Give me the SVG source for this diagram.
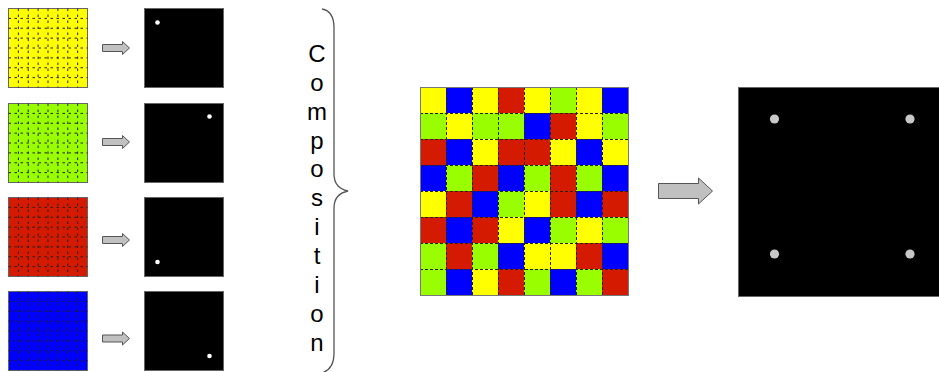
<svg xmlns="http://www.w3.org/2000/svg" xmlns:xlink="http://www.w3.org/1999/xlink" width="939" height="372" viewBox="0 0 939 372">
<style>
.y{fill:#ffff00}.g{fill:#99ff00}.r{fill:#d41a00}.b{fill:#0000ff}
.sq{stroke:#666;stroke-width:1}
.blk{fill:#000;stroke:#666;stroke-width:1}
.dash{fill:none;stroke:#222;stroke-width:1;stroke-dasharray:3 2}
.sdash{fill:none;stroke:#222;stroke-width:1;stroke-dasharray:2.5 3.5}
.arr{fill:#c0c0c0;stroke:#555;stroke-width:1;stroke-linejoin:miter}
.lbl{font-family:"Liberation Sans",Arial,sans-serif;font-size:24px;fill:#000;text-anchor:middle}
.brace{fill:none;stroke:#555;stroke-width:1.3}
</style>
<defs>
<path id="sgrid" class="sdash" d="M9.875 0V79M19.75 0V79M29.625 0V79M39.5 0V79M49.375 0V79M59.25 0V79M69.125 0V79M0 9.875H79M0 19.75H79M0 29.625H79M0 39.5H79M0 49.375H79M0 59.25H79M0 69.125H79"/>
</defs>

<g id="yellow-grid">
<rect class="y sq" x="8.5" y="8.5" width="79" height="79"/>
<use xlink:href="#sgrid" x="8.5" y="8.5"/>
</g>
<g id="green-grid">
<rect class="g sq" x="8.5" y="103.5" width="79" height="79"/>
<use xlink:href="#sgrid" x="8.5" y="103.5"/>
</g>
<g id="red-grid">
<rect class="r sq" x="8.5" y="197.5" width="79" height="79"/>
<use xlink:href="#sgrid" x="8.5" y="197.5"/>
</g>
<g id="blue-grid">
<rect class="b sq" x="8.5" y="291.5" width="79" height="79"/>
<use xlink:href="#sgrid" x="8.5" y="291.5"/>
</g>

<g id="mask-1"><rect class="blk" x="144.5" y="8.5" width="79" height="79"/><circle cx="157.5" cy="22.5" r="2.3" fill="#fff"/></g>
<g id="mask-2"><rect class="blk" x="144.5" y="103.5" width="79" height="79"/><circle cx="209.5" cy="116.5" r="2.3" fill="#fff"/></g>
<g id="mask-3"><rect class="blk" x="144.5" y="197.5" width="79" height="79"/><circle cx="157.5" cy="262" r="2.3" fill="#fff"/></g>
<g id="mask-4"><rect class="blk" x="144.5" y="291.5" width="79" height="79"/><circle cx="209.5" cy="356" r="2.3" fill="#fff"/></g>

<g id="composition">
<path class="brace" d="M322 9Q334 11 334 28L334 174Q334 188 348 191Q334 194 334 208L334 354Q334 369 322 373"/>
<text class="lbl" x="317" y="62">C</text>
<text class="lbl" x="317" y="91">o</text>
<text class="lbl" x="317" y="120">m</text>
<text class="lbl" x="317" y="149">p</text>
<text class="lbl" x="317" y="177">o</text>
<text class="lbl" x="317" y="206">s</text>
<text class="lbl" x="317" y="235">i</text>
<text class="lbl" x="317" y="264">t</text>
<text class="lbl" x="317" y="293">i</text>
<text class="lbl" x="317" y="322">o</text>
<text class="lbl" x="317" y="351">n</text>
</g>

<g id="checkerboard">
<rect class="y" x="420" y="87" width="26" height="26"/><rect class="b" x="446" y="87" width="26" height="26"/><rect class="y" x="472" y="87" width="26" height="26"/><rect class="r" x="498" y="87" width="26" height="26"/><rect class="y" x="524" y="87" width="26" height="26"/><rect class="g" x="550" y="87" width="26" height="26"/><rect class="y" x="576" y="87" width="26" height="26"/><rect class="b" x="602" y="87" width="26" height="26"/>
<rect class="g" x="420" y="113" width="26" height="26"/><rect class="y" x="446" y="113" width="26" height="26"/><rect class="g" x="472" y="113" width="26" height="26"/><rect class="g" x="498" y="113" width="26" height="26"/><rect class="b" x="524" y="113" width="26" height="26"/><rect class="r" x="550" y="113" width="26" height="26"/><rect class="y" x="576" y="113" width="26" height="26"/><rect class="g" x="602" y="113" width="26" height="26"/>
<rect class="r" x="420" y="139" width="26" height="26"/><rect class="b" x="446" y="139" width="26" height="26"/><rect class="y" x="472" y="139" width="26" height="26"/><rect class="r" x="498" y="139" width="26" height="26"/><rect class="r" x="524" y="139" width="26" height="26"/><rect class="y" x="550" y="139" width="26" height="26"/><rect class="b" x="576" y="139" width="26" height="26"/><rect class="y" x="602" y="139" width="26" height="26"/>
<rect class="b" x="420" y="165" width="26" height="26"/><rect class="g" x="446" y="165" width="26" height="26"/><rect class="r" x="472" y="165" width="26" height="26"/><rect class="b" x="498" y="165" width="26" height="26"/><rect class="g" x="524" y="165" width="26" height="26"/><rect class="r" x="550" y="165" width="26" height="26"/><rect class="g" x="576" y="165" width="26" height="26"/><rect class="b" x="602" y="165" width="26" height="26"/>
<rect class="y" x="420" y="191" width="26" height="26"/><rect class="r" x="446" y="191" width="26" height="26"/><rect class="b" x="472" y="191" width="26" height="26"/><rect class="g" x="498" y="191" width="26" height="26"/><rect class="y" x="524" y="191" width="26" height="26"/><rect class="r" x="550" y="191" width="26" height="26"/><rect class="b" x="576" y="191" width="26" height="26"/><rect class="r" x="602" y="191" width="26" height="26"/>
<rect class="r" x="420" y="217" width="26" height="26"/><rect class="b" x="446" y="217" width="26" height="26"/><rect class="r" x="472" y="217" width="26" height="26"/><rect class="y" x="498" y="217" width="26" height="26"/><rect class="b" x="524" y="217" width="26" height="26"/><rect class="g" x="550" y="217" width="26" height="26"/><rect class="y" x="576" y="217" width="26" height="26"/><rect class="g" x="602" y="217" width="26" height="26"/>
<rect class="g" x="420" y="243" width="26" height="26"/><rect class="r" x="446" y="243" width="26" height="26"/><rect class="g" x="472" y="243" width="26" height="26"/><rect class="b" x="498" y="243" width="26" height="26"/><rect class="y" x="524" y="243" width="26" height="26"/><rect class="y" x="550" y="243" width="26" height="26"/><rect class="r" x="576" y="243" width="26" height="26"/><rect class="b" x="602" y="243" width="26" height="26"/>
<rect class="g" x="420" y="269" width="26" height="26"/><rect class="b" x="446" y="269" width="26" height="26"/><rect class="y" x="472" y="269" width="26" height="26"/><rect class="r" x="498" y="269" width="26" height="26"/><rect class="g" x="524" y="269" width="26" height="26"/><rect class="b" x="550" y="269" width="26" height="26"/><rect class="g" x="576" y="269" width="26" height="26"/><rect class="r" x="602" y="269" width="26" height="26"/>
<path class="dash" d="M446.5 87V295M472.5 87V295M498.5 87V295M524.5 87V295M550.5 87V295M576.5 87V295M602.5 87V295M420 113.5H628M420 139.5H628M420 165.5H628M420 191.5H628M420 217.5H628M420 243.5H628M420 269.5H628"/>
<rect x="420.5" y="87.5" width="208" height="208" fill="none" stroke="#777" stroke-width="1"/>
</g>

<g id="result">
<rect class="blk" x="738.5" y="87.5" width="210" height="209"/>
<circle cx="774.5" cy="119" r="4.6" fill="#c8c8c8"/>
<circle cx="910" cy="119" r="4.6" fill="#c8c8c8"/>
<circle cx="774.5" cy="254" r="4.6" fill="#c8c8c8"/>
<circle cx="910" cy="254" r="4.6" fill="#c8c8c8"/>
</g>

<g id="connectors">
<path class="arr" d="M102.5 44.5H122.5V41.5L129.5 48L122.5 54.5V51.5H102.5Z"/>
<path class="arr" d="M102.5 138.5H122.5V135.5L129.5 142L122.5 148.5V145.5H102.5Z"/>
<path class="arr" d="M102.5 236.5H122.5V233.5L129.5 240L122.5 246.5V243.5H102.5Z"/>
<path class="arr" d="M102.5 335H122.5V332L129.5 338.5L122.5 345V342H102.5Z"/>
<path class="arr" d="M658.5 183.5H698.5V178L712.5 191L698.5 204V198.5H658.5Z"/>
</g>
</svg>
